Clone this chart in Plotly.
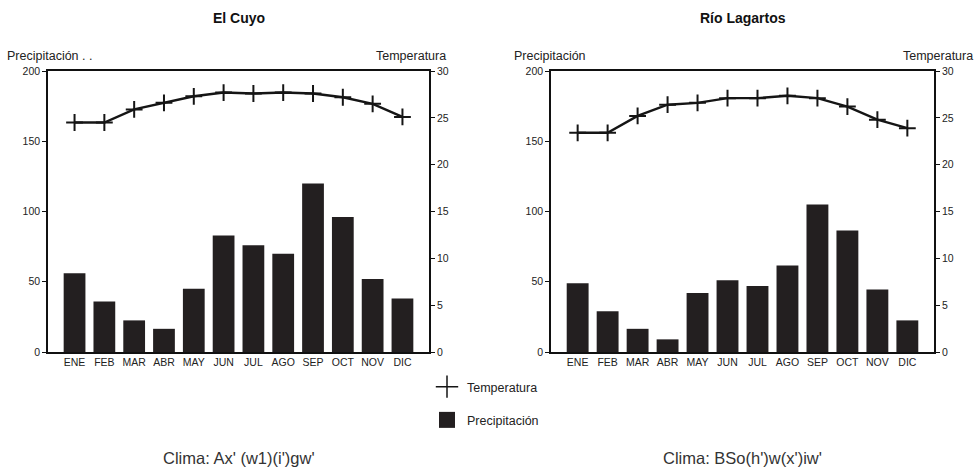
import plotly.graph_objects as go
from plotly.subplots import make_subplots

months = ["ENE", "FEB", "MAR", "ABR", "MAY", "JUN", "JUL", "AGO", "SEP", "OCT", "NOV", "DIC"]

cuyo_precip = [56, 36, 22.5, 16.5, 45, 83, 76, 70, 120, 96, 52, 38]
cuyo_temp = [24.5, 24.5, 25.9, 26.6, 27.3, 27.7, 27.6, 27.7, 27.6, 27.2, 26.5, 25.1]

lag_precip = [49, 29, 16.5, 9, 42, 51, 47, 61.5, 105, 86.5, 44.5, 22.5]
lag_temp = [23.4, 23.4, 25.2, 26.4, 26.6, 27.1, 27.1, 27.35, 27.1, 26.2, 24.8, 23.9]

titles = ["El Cuyo", "Río Lagartos"]
climas = ["Clima: Ax' (w1)(i')gw'", "Clima: BSo(h')w(x')iw'"]
left_titles = ["Precipitación . .", "Precipitación"]
right_title = "Temperatura"

FONT = "Liberation Sans, Arial, sans-serif"
BAR_COLOR = "#231f20"
LINE_COLOR = "#151515"

fig = make_subplots(rows=1, cols=2, specs=[[{"secondary_y": True}, {"secondary_y": True}]])

for i, (p, t) in enumerate([(cuyo_precip, cuyo_temp), (lag_precip, lag_temp)]):
    col = i + 1
    fig.add_trace(go.Bar(x=months, y=p, marker=dict(color=BAR_COLOR, line=dict(width=0)),
                         showlegend=False), row=1, col=col, secondary_y=False)
    fig.add_trace(go.Scatter(x=months, y=t, mode="lines+markers",
                             line=dict(color=LINE_COLOR, width=2.4),
                             marker=dict(symbol="cross-thin", size=12,
                                         line=dict(color=LINE_COLOR, width=2)),
                             showlegend=False), row=1, col=col, secondary_y=True)

# legend entries
fig.add_trace(go.Scatter(x=[None], y=[None], mode="markers", name="Temperatura",
                         marker=dict(symbol="cross-thin", size=16, line=dict(color=LINE_COLOR, width=1.5)),
                         legendgroup="a", showlegend=True), row=1, col=1, secondary_y=True)
fig.add_trace(go.Scatter(x=[None], y=[None], mode="markers", name="Precipitación",
                         marker=dict(symbol="square", size=16, color=BAR_COLOR),
                         legendgroup="b", showlegend=True), row=1, col=1, secondary_y=False)

W, H = 978, 473
def px_x(v):
    return v / W
def px_y(v):
    return 1 - v / H

doms = [[px_x(48), px_x(429)], [px_x(551), px_x(934)]]
ydom = [px_y(352), px_y(71)]

tickfont = dict(family=FONT, size=10.5, color="#222222")
line_common = dict(showline=True, linecolor="#111111", linewidth=1.6, showgrid=False, zeroline=False)

fig.update_layout(
    width=W, height=H, margin=dict(l=0, r=0, t=0, b=0, autoexpand=False),
    paper_bgcolor="white", plot_bgcolor="white",
    font=dict(family=FONT, color="#222222"),
    bargap=0.27,
    showlegend=True,
    legend=dict(x=px_x(427), y=px_y(372), xanchor="left", yanchor="top",
                font=dict(family=FONT, size=12.5, color="#222222"),
                traceorder="grouped", tracegroupgap=14, itemsizing="trace",
                bgcolor="rgba(0,0,0,0)"),
    xaxis=dict(domain=doms[0], mirror=True, ticks="", tickfont=tickfont, **line_common),
    xaxis2=dict(domain=doms[1], mirror=True, ticks="", tickfont=tickfont, **line_common),
)
for ax in ["yaxis", "yaxis3"]:
    fig.layout[ax].update(domain=ydom, range=[0, 200], tickvals=[0, 50, 100, 150, 200],
                          ticks="outside", ticklen=4, tickcolor="#111111", tickfont=tickfont, **line_common)
for ax in ["yaxis2", "yaxis4"]:
    fig.layout[ax].update(domain=ydom, range=[0, 30], tickvals=[0, 5, 10, 15, 20, 25, 30],
                          ticks="outside", ticklen=4, tickcolor="#111111", tickfont=tickfont, **line_common)

annotations = []
left_x = [5, 512]
right_x = [448, 975]
for i in range(2):
    cx = (doms[i][0] + doms[i][1]) / 2
    annotations.append(dict(text="<b>" + titles[i] + "</b>", x=cx, y=px_y(18), xref="paper", yref="paper",
                            showarrow=False, font=dict(family=FONT, size=14, color="#111111"),
                            xanchor="center", yanchor="middle"))
    annotations.append(dict(text=left_titles[i], x=px_x(left_x[i]), y=px_y(56),
                            xref="paper", yref="paper", showarrow=False,
                            font=dict(family=FONT, size=12.5, color="#222222"),
                            xanchor="left", yanchor="middle"))
    annotations.append(dict(text=right_title, x=px_x(right_x[i]), y=px_y(56),
                            xref="paper", yref="paper", showarrow=False,
                            font=dict(family=FONT, size=12.5, color="#222222"),
                            xanchor="right", yanchor="middle"))
    annotations.append(dict(text=climas[i], x=cx, y=px_y(458), xref="paper", yref="paper",
                            showarrow=False, font=dict(family=FONT, size=16.5, color="#333333"),
                            xanchor="center", yanchor="middle"))
fig.update_layout(annotations=annotations)

fig.write_html("out.html", config={"displayModeBar": False},
               post_script="document.body.style.margin='0px';document.body.style.overflow='hidden';")
